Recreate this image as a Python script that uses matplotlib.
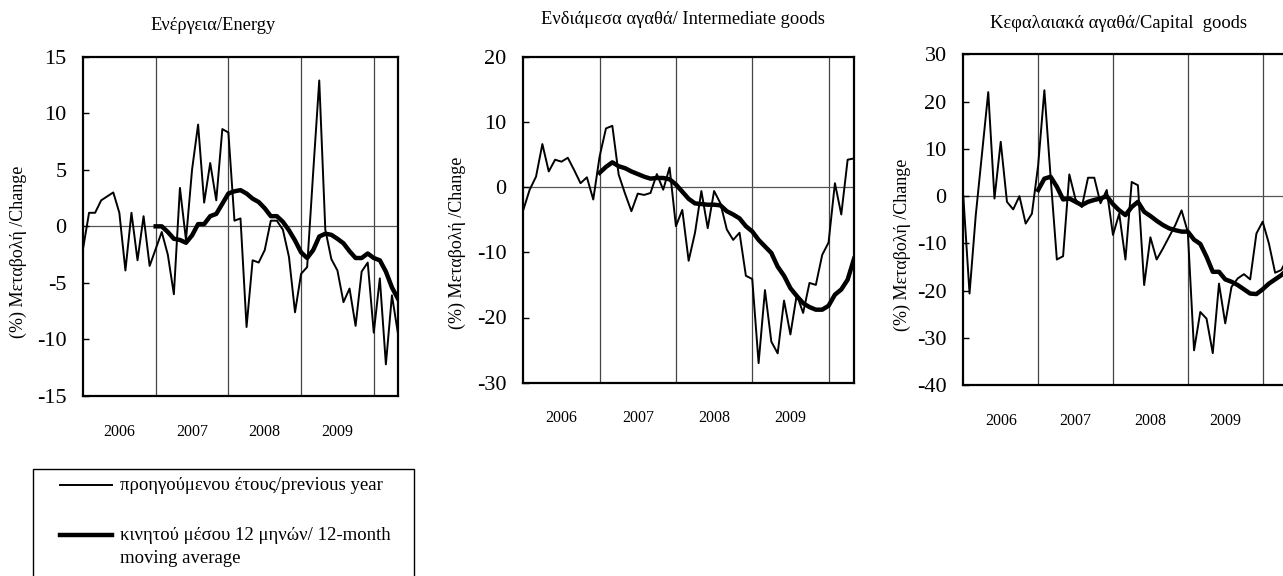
import numpy as np
import matplotlib
matplotlib.use("Agg")
import matplotlib.pyplot as plt
from matplotlib.lines import Line2D
from matplotlib.patches import Rectangle

plt.rcParams['font.family'] = ['Liberation Serif', 'DejaVu Serif']

# monthly data, Jan 2006 - May 2010
years = ['2006', '2007', '2008', '2009']

energy_yoy = [-2.0, 1.2, 1.2, 2.3, 2.65, 3.0, 1.2, -3.9, 1.2, -3.0, 0.9, -3.5,
              -2.0, -0.5, -2.5, -6.0, 3.4, -1.2, 5.0, 9.0, 2.1, 5.6, 2.3, 8.6,
              8.3, 0.5, 0.7, -8.9, -3.0, -3.2, -2.1, 0.5, 0.5, -0.3, -2.7, -7.6,
              -4.2, -3.6, 4.8, 12.9, -0.3, -2.9, -3.9, -6.7, -5.5, -8.8, -4.0, -3.2,
              -9.4, -4.6, -12.2, -6.1, -9.5]
energy_ma = [0.0, 0.0, -0.5, -1.1, -1.2, -1.45, -0.8, 0.2, 0.2, 0.9, 1.1, 2.0,
             2.9, 3.1, 3.2, 2.9, 2.45, 2.15, 1.6, 0.9, 0.9, 0.4, -0.35, -1.25,
             -2.3, -2.8, -2.1, -0.9, -0.65, -0.75, -1.1, -1.5, -2.2, -2.8, -2.8, -2.4,
             -2.8, -3.0, -4.0, -5.4, -6.4]

interm_yoy = [-3.5, -0.4, 1.6, 6.6, 2.4, 4.2, 3.9, 4.5, 2.6, 0.6, 1.5, -1.9,
              4.7, 9.0, 9.4, 1.9, -1.0, -3.7, -1.0, -1.2, -0.9, 2.0, -0.4, 3.0,
              -6.0, -3.5, -11.3, -7.0, -0.6, -6.3, -0.6, -2.5, -6.5, -8.1, -7.0, -13.6,
              -14.1, -27.0, -15.8, -23.7, -25.5, -17.4, -22.6, -16.5, -19.3, -14.7, -15.0, -10.4,
              -8.5, 0.6, -4.2, 4.2, 4.4]
interm_ma = [2.2, 3.1, 3.8, 3.2, 2.9, 2.4, 2.0, 1.6, 1.3, 1.4, 1.4, 1.2,
             0.4, -0.7, -1.8, -2.5, -2.6, -2.7, -2.7, -2.8, -3.7, -4.2, -4.8, -6.0,
             -6.8, -8.1, -9.1, -10.1, -12.2, -13.6, -15.5, -16.7, -17.8, -18.4, -18.8, -18.8,
             -18.2, -16.5, -15.7, -14.2, -11.0]

capital_yoy = [0.0, -20.6, -4.0, 9.0, 22.0, -0.5, 11.5, -1.2, -2.8, 0.0, -5.8, -3.7,
               6.5, 22.4, 4.0, -13.4, -12.7, 4.6, -0.7, -2.3, 3.9, 3.9, -1.5, 1.3,
               -8.2, -3.7, -13.4, 3.0, 2.3, -18.8, -8.7, -13.4, -11.1, -8.6, -6.1, -3.0,
               -7.6, -32.6, -24.5, -25.9, -33.2, -18.5, -26.9, -19.2, -17.4, -16.5, -17.6, -7.9,
               -5.4, -10.0, -16.2, -15.6, -13.0]
capital_ma = [1.3, 3.7, 4.1, 2.0, -0.7, -0.5, -1.2, -1.9, -1.2, -0.8, -0.5, 0.0,
              -1.7, -3.0, -4.0, -2.3, -1.2, -3.3, -4.2, -5.2, -6.1, -6.8, -7.2, -7.5,
              -7.5, -9.2, -10.1, -12.8, -16.0, -16.0, -17.6, -18.1, -18.8, -19.7, -20.6, -20.7,
              -19.7, -18.5, -17.6, -16.7, -15.5]

titles = ['Ενέργεια/Energy', 'Ενδιάμεσα αγαθά/ Intermediate goods',
          'Κεφαλαιακά αγαθά/Capital  goods']
ylabel = '(%) Μεταβολή /Change'
legend_labels = ['προηγούμενου έτους/previous year',
                 'κινητού μέσου 12 μηνών/ 12-month\nmoving average']

W, H = 1283, 576


def px(x, y):
    """Pixel position (from top-left) to figure fraction."""
    return x / W, 1 - y / H


fig = plt.figure(figsize=(W / 100, H / 100), dpi=100)

# left, right, top, bottom in pixels; y range; ticks; title and ylabel positions
panels = [
    (83, 398, 56.7, 396, (-15, 15), np.arange(-15, 16, 5), energy_yoy, energy_ma, 213, 25, 18, 252),
    (523.3, 854, 56.7, 382.7, (-30, 20), np.arange(-30, 21, 10), interm_yoy, interm_ma, 683, 20, 457, 243),
    (963.3, 1287.6, 54.3, 385.3, (-40, 30), np.arange(-40, 31, 10), capital_yoy, capital_ma, 1118, 23, 902, 245),
]

for k, (l, r, t, b, ylim, yticks, yoy, ma, tx, ty, lx, ly) in enumerate(panels):
    x0, y0 = px(l, b)
    ax = fig.add_axes([x0, y0, (r - l) / W, (b - t) / H])
    n = len(yoy)
    idx = np.arange(n)
    ax.set_xlim(0, n - 1)
    ax.set_ylim(*ylim)
    for v in (12, 24, 36, 48):
        ax.axvline(v, color='#444444', lw=0.9, zorder=1)
    ax.axhline(0, color='#555555', lw=0.9, zorder=1)
    ax.plot(idx, yoy, color='black', lw=1.4, zorder=3)
    ax.plot(idx[12:], ma, color='black', lw=3.2, zorder=4)
    ax.set_yticks(yticks)
    ax.set_yticklabels([str(v) for v in yticks], fontsize=16)
    ax.tick_params(axis='y', direction='in', length=4, width=1, pad=12)
    ax.set_xticks([6, 18, 30, 42])
    ax.set_xticklabels(years, fontsize=11.5)
    ax.tick_params(axis='x', length=0, pad=20)
    for s in ax.spines.values():
        s.set_linewidth(1.6)
    fx, fy = px(tx, ty)
    fig.text(fx, fy, titles[k], ha='center', va='center', fontsize=13.3)
    fx, fy = px(lx, ly)
    fig.text(fx, fy, ylabel, ha='center', va='center', rotation=90, fontsize=13)

# legend box (cut by the bottom of the figure)
bx, by = px(33, 600)
fig.add_artist(Rectangle((bx, by), 381 / W, (600 - 469) / H, transform=fig.transFigure,
                         fill=False, edgecolor='black', lw=1.0))
for y, lw, lab in ((485, 1.4, legend_labels[0]), (535, 3.2, legend_labels[1])):
    xa, ya = px(60, y)
    xb, _ = px(112, y)
    fig.add_artist(Line2D([xa, xb], [ya, ya], transform=fig.transFigure, color='black', lw=lw))
    xt, yt = px(120, y - 8)
    fig.text(xt, yt, lab, ha='left', va='top', fontsize=13.5, linespacing=1.45)

fig.savefig('out.png', dpi=100)
